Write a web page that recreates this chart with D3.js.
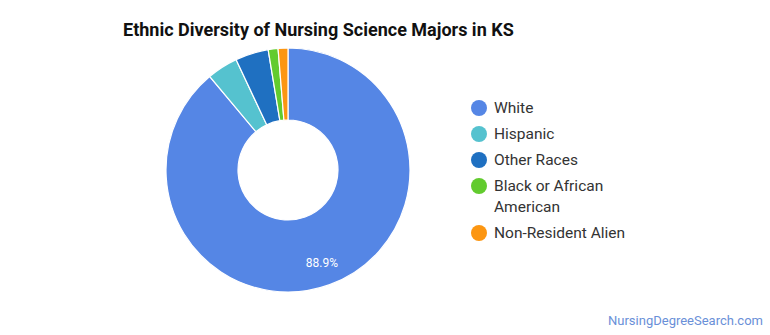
<!DOCTYPE html>
<html><head><meta charset="utf-8">
<script src="https://cdn.jsdelivr.net/npm/d3@7"></script>
<style>body{margin:0;background:#fff;}svg{display:block;font-family:Roboto,sans-serif;}</style>
</head><body><svg id="c" width="770" height="335"></svg>
<script>
const categories = ["White","Hispanic","Other Races","Black or African American","Non-Resident Alien"];
const legendLines = [["White"],["Hispanic"],["Other Races"],["Black or African","American"],["Non-Resident Alien"]];
const values = [88.9, 4.1, 4.4, 1.3, 1.3];
const colors = ["#5586e5","#55c2cf","#1f70c1","#62cb2e","#fc9612"];

const svg = d3.select("#c");
svg.append("text").attr("x",123).attr("y",36).attr("font-size",18).attr("font-weight","bold")
  .attr("fill","#111").text("Ethnic Diversity of Nursing Science Majors in KS");

const cx=288, cy=170, R=122, r=50;
const pie = d3.pie().sort(null).value(d=>d)(values);
const arc = d3.arc().innerRadius(r).outerRadius(R);
const g = svg.append("g").attr("transform",`translate(${cx},${cy})`);
g.selectAll("path").data(pie).join("path").attr("d",arc)
  .attr("fill",(d,i)=>colors[i]).attr("stroke","#fff").attr("stroke-width",1.2);
g.selectAll("text.l").data(pie.filter(d=>d.value>10)).join("text").attr("class","l")
  .attr("transform",d=>{const a=(d.startAngle+d.endAngle)/2; const rr=(R+r)/2+13; return `translate(${Math.sin(a)*rr},${-Math.cos(a)*rr})`;})
  .attr("text-anchor","middle").attr("dy","0.35em").attr("font-size",12).attr("fill","#fff")
  .text(d=>d.value.toFixed(1)+"%");

const ly = [108,134,160,186,233];
const lg = svg.append("g");
legendLines.forEach((lines,i)=>{
  lg.append("circle").attr("cx",479).attr("cy",ly[i]).attr("r",8).attr("fill",colors[i]);
  lines.forEach((t,j)=>{
    lg.append("text").attr("x",494).attr("y",ly[i]+j*21).attr("dy","0.35em").attr("font-size",15.5)
      .attr("fill","#333").text(t);
  });
});
svg.append("text").attr("x",763).attr("y",325).attr("text-anchor","end").attr("font-size",13)
  .attr("fill","#6a90d8").text("NursingDegreeSearch.com");
</script></body></html>
